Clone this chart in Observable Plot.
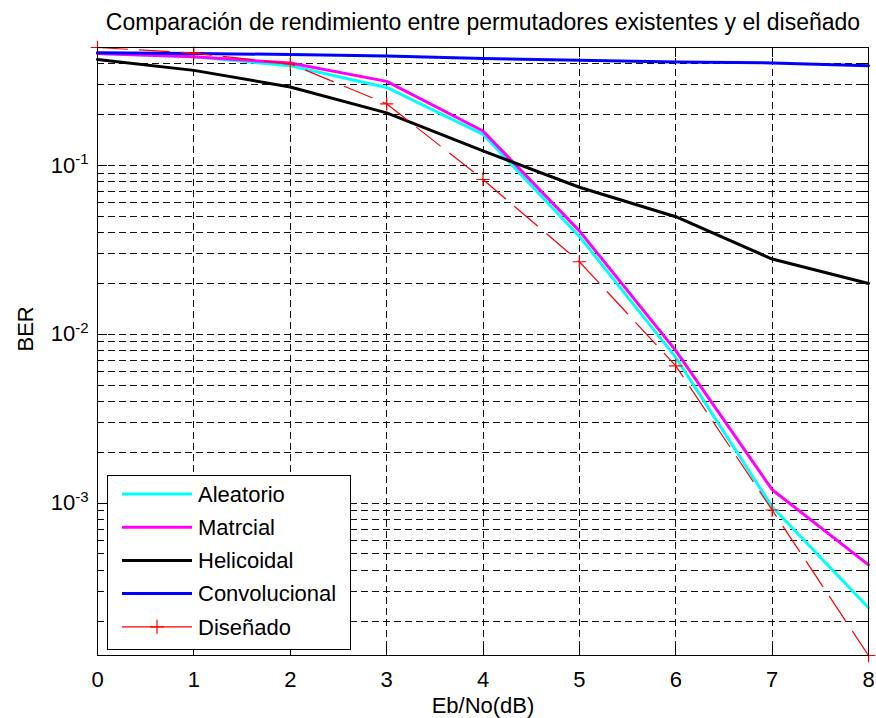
<!DOCTYPE html>
<html><head><meta charset="utf-8">
<script src="https://cdn.jsdelivr.net/npm/d3@7"></script>
<script src="https://cdn.jsdelivr.net/npm/@observablehq/plot@0.6"></script>
<style>body{margin:0;background:#fff}svg{display:block}</style>
</head><body><div id="chart"></div>
<script>
// ---- data ----
const ebno = [0, 1, 2, 3, 4, 5, 6, 7, 8];
const aleatorio     = [0.46, 0.44, 0.39, 0.29, 0.153, 0.038, 0.0073, 0.00095, 0.00024];
const matrcial      = [0.46, 0.44, 0.405, 0.315, 0.16, 0.041, 0.0080, 0.0012, 0.00043];
const helicoidal    = [0.425, 0.366, 0.292, 0.205, 0.122, 0.0743, 0.0497, 0.0279, 0.0200];
const convolucional = [0.465, 0.46, 0.455, 0.445, 0.43, 0.42, 0.41, 0.405, 0.39];
const disenado      = [0.5, 0.463, 0.40, 0.232, 0.0826, 0.0269, 0.0065, 0.00091, 0.000125];
const seriesNames  = ["Aleatorio", "Matrcial", "Helicoidal", "Convolucional", "Diseñado"];
const seriesColors = ["#00ffff", "#ff00ff", "#000000", "#0000ff", "#ff0000"];
const xTicks = [0, 1, 2, 3, 4, 5, 6, 7, 8];
const yMajorTicks = [1e-3, 1e-2, 1e-1];
const yDomain = [1.25e-4, 0.5];
const titleText = "Comparación de rendimiento entre permutadores existentes y el diseñado";
const xLabel = "Eb/No(dB)";
const yLabel = "BER";

// ---- layout ----
const W = 876, H = 718, mL = 97, mR = 8, mT = 47, mB = 63;
const fw = W - mL - mR, fh = H - mT - mB;
const FONT = "'Liberation Sans', Arial, Helvetica, sans-serif";

const allSeries = [aleatorio, matrcial, helicoidal, convolucional, disenado];
const rows = [];
allSeries.forEach((arr, k) => arr.forEach((v, i) => rows.push({x: ebno[i], y: v, serie: seriesNames[k]})));

const yMinor = [];
[1e-4, 1e-3, 1e-2, 1e-1].forEach(d => [2,3,4,5,6,7,8,9].forEach(m => {
  const v = +(m * d).toPrecision(3);
  if (v > yDomain[0] && v < yDomain[1]) yMinor.push(v);
}));
const yGrid = yMajorTicks.concat(yMinor);
const xGrid = xTicks.filter(t => t > 0 && t < 8);

const gridStyle = {stroke: "#111", strokeWidth: 1, strokeDasharray: "7,4", shapeRendering: "crispEdges"};
const tickStyle = {stroke: "#000", strokeWidth: 1, shapeRendering: "crispEdges"};
const lineOf = (k, extra = {}) => Plot.line(rows.filter(r => r.serie === seriesNames[k]),
  {x: "x", y: "y", stroke: seriesColors[k], strokeWidth: 3, ...extra});

const chart = Plot.plot({
  width: W, height: H,
  marginLeft: mL, marginRight: mR, marginTop: mT, marginBottom: mB,
  style: {fontFamily: FONT, fontSize: "22px", color: "#000", background: "#fff"},
  x: {domain: [0, 8]},
  y: {type: "log", domain: yDomain},
  marks: [
    Plot.ruleX(xGrid, {x: d => d, ...gridStyle}),
    Plot.ruleY(yGrid, {y: d => d, ...gridStyle}),
    Plot.tickX(xTicks, {x: d => d, insetTop: fh - 10, ...tickStyle}),
    Plot.tickX(xTicks, {x: d => d, insetBottom: fh - 10, ...tickStyle}),
    Plot.tickY(yMajorTicks, {y: d => d, insetRight: fw - 10, ...tickStyle}),
    Plot.tickY(yMajorTicks, {y: d => d, insetLeft: fw - 10, ...tickStyle}),
    Plot.tickY(yMinor, {y: d => d, insetRight: fw - 6, ...tickStyle}),
    Plot.tickY(yMinor, {y: d => d, insetLeft: fw - 6, ...tickStyle}),
    lineOf(0),
    lineOf(1),
    lineOf(2),
    lineOf(3),
    lineOf(4, {strokeWidth: 1.2, strokeDasharray: "30,12"}),
    Plot.dot(rows.filter(r => r.serie === seriesNames[4]),
      {x: "x", y: "y", symbol: "plus", r: 4.4, stroke: seriesColors[4], fill: "none", strokeWidth: 1.2}),
    Plot.axisX({ticks: xTicks, tickSize: 0, tickPadding: 16, fontSize: 22, label: null}),
    Plot.axisY({ticks: yMajorTicks, tickSize: 0, tickPadding: 9, fontSize: 22, label: null,
      tickFormat: d => "10^" + Math.round(Math.log10(d))}),
    Plot.frame({stroke: "#000", strokeWidth: 1, shapeRendering: "crispEdges"}),
    Plot.text([titleText], {frameAnchor: "top", dy: -25, lineAnchor: "middle", fontSize: 23, fill: "#000"}),
    Plot.text([xLabel], {frameAnchor: "bottom", dy: 50, lineAnchor: "middle", fontSize: 22, fill: "#000"}),
    Plot.text([yLabel], {frameAnchor: "left", dx: -72, rotate: -90, lineAnchor: "middle", fontSize: 22, fill: "#000"})
  ]
});
document.getElementById("chart").appendChild(chart);

// superscript exponents on the y tick labels
d3.select(chart).selectAll('[aria-label="y-axis tick label"] text').each(function() {
  const t = this.textContent;
  if (t.indexOf("^") < 0) return;
  const [base, exp] = t.split("^");
  const sel = d3.select(this);
  sel.text(base);
  sel.append("tspan").attr("dy", "-0.55em").attr("font-size", "15px").text(exp.replace("−", "-"));
});

// legend
const svg = d3.select(chart);
const lg = svg.append("g").attr("font-family", FONT).attr("font-size", 22).attr("text-anchor", "start");
lg.append("rect").attr("x", 107.5).attr("y", 475.5).attr("width", 243).attr("height", 174)
  .attr("fill", "#fff").attr("stroke", "#000");
seriesNames.forEach((name, i) => {
  const y = 494 + i * 33.2;
  const isRed = i === 4;
  lg.append("line").attr("x1", 122).attr("x2", 192).attr("y1", y).attr("y2", y)
    .attr("stroke", seriesColors[i]).attr("stroke-width", isRed ? 1.2 : 3);
  if (isRed) {
    lg.append("path").attr("d", `M157,${y - 7}V${y + 7}M150,${y}H164`)
      .attr("stroke", seriesColors[i]).attr("stroke-width", 1.2).attr("fill", "none");
  }
  lg.append("text").attr("x", 198).attr("y", y).attr("dy", "0.35em").attr("text-anchor", "start")
    .attr("fill", "#000").text(name);
});
</script>
</body></html>
